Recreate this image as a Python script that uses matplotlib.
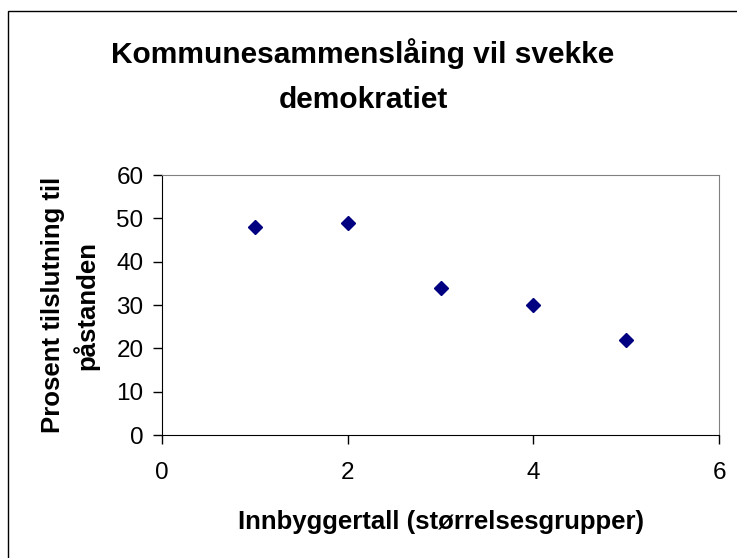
import matplotlib.pyplot as plt
from matplotlib.patches import Rectangle

plt.rcParams['font.family'] = ['Liberation Sans', 'DejaVu Sans']

# size groups and share agreeing (%)
groups = [1, 2, 3, 4, 5]
percent = [48, 49, 34, 30, 22]
x_ticks = [0, 2, 4, 6]
y_ticks = [0, 10, 20, 30, 40, 50, 60]

fig = plt.figure(figsize=(7.37, 5.58), dpi=100)
ax = fig.add_axes([162 / 737, 1 - 435 / 558, (719 - 162) / 737, (435 - 175) / 558])

# outer chart border, runs off the right and bottom edge
fig.patches.append(Rectangle((8 / 737, -0.05), 1.1, 1 - 11 / 558 + 0.05,
                             transform=fig.transFigure, fill=False,
                             edgecolor='black', linewidth=1.0))

ax.plot(groups, percent, linestyle='none', marker='D', markersize=7,
        color='#000080', clip_on=False)

ax.set_xlim(0, 6)
ax.set_ylim(0, 60)
ax.set_xticks(x_ticks)
ax.set_yticks(y_ticks)
ax.tick_params(direction='out', length=6.3, width=1, labelsize=17.5, pad=7)
ax.tick_params(axis='x', pad=13)

for side in ['top', 'right']:
    ax.spines[side].set_color('#808080')
for side in ['left', 'bottom']:
    ax.spines[side].set_color('black')

ax.set_xlabel('Innbyggertall (størrelsesgrupper)', fontsize=18.5,
              fontweight='bold', labelpad=19)
ax.set_ylabel('Prosent tilslutning til\npåstanden', fontsize=18.5,
              fontweight='bold', labelpad=12, linespacing=1.35)

fig.text(363 / 737, 1 - 76 / 558, 'Kommunesammenslåing vil svekke\ndemokratiet',
         ha='center', va='center', fontsize=21.5, fontweight='bold', linespacing=1.75)

fig.savefig('out.png', dpi=100)
